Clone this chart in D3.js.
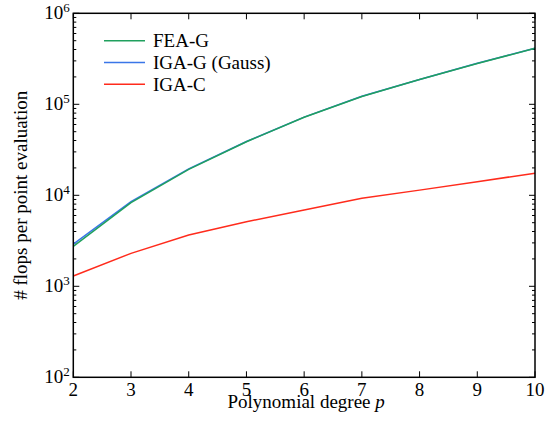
<!DOCTYPE html>
<html>
<head>
<meta charset="utf-8">
<script src="https://cdn.jsdelivr.net/npm/d3@7"></script>
<style>
	body { margin: 0; background: #fff; }
</style>
</head>
<body>
<script>
var w = 555, h = 427;
var margin = {top: 13.3, right: 20, bottom: 49.7, left: 73.3};
var serif = "'Nimbus Roman'";

//data
var degrees = [2, 3, 4, 5, 6, 7, 8, 9, 10];
var feaG = [2750, 8300, 19300, 38800, 72000, 122000, 187000, 281000, 412000];
var igaG = [2900, 8500, 19500, 39000, 72300, 122500, 187500, 282000, 413000];
var igaC = [1300, 2300, 3660, 5130, 6890, 9260, 11400, 14100, 17500];
var names = ["FEA-G", "IGA-G (Gauss)", "IGA-C"];
var colors = ["#20a05e", "#3a76e8", "#ff2b1c"];
var yExps = [2, 3, 4, 5, 6];

var series = [
	{name: names[0], vals: feaG, color: colors[0]},
	{name: names[1], vals: igaG, color: colors[1]},
	{name: names[2], vals: igaC, color: colors[2]}
];
// blue goes under green so green shows on top
var drawOrder = [series[1], series[0], series[2]];

var svg = d3.select("body").append("svg")
	.attr("width", w)
	.attr("height", h);

function label(xp, yp, size){
	return svg.append("text")
		.attr("x", xp).attr("y", yp)
		.style("font-family", serif)
		.style("font-size", size + "px")
		.style("fill", "#000");
}

var x = d3.scaleLinear().domain([2, 10]).range([margin.left, w - margin.right]);
var y = d3.scaleLog().domain([100, 1e6]).range([h - margin.bottom, margin.top]);

var x0 = margin.left, x1 = w - margin.right, y0 = h - margin.bottom, y1 = margin.top;

//minor ticks
var minors = [];
yExps.slice(0, -1).forEach(function(e){
	for(var k = 2; k < 10; k++) minors.push(k * Math.pow(10, e));
});

var g = svg.append("g").attr("stroke", "#000").attr("stroke-width", 1);

minors.forEach(function(v){
	g.append("line").attr("x1", x0).attr("x2", x0 + 3).attr("y1", y(v)).attr("y2", y(v));
	g.append("line").attr("x1", x1).attr("x2", x1 - 3).attr("y1", y(v)).attr("y2", y(v));
});
yExps.forEach(function(e){
	var v = Math.pow(10, e);
	g.append("line").attr("x1", x0).attr("x2", x0 + 6).attr("y1", y(v)).attr("y2", y(v));
	g.append("line").attr("x1", x1).attr("x2", x1 - 6).attr("y1", y(v)).attr("y2", y(v));
});
degrees.forEach(function(d){
	g.append("line").attr("x1", x(d)).attr("x2", x(d)).attr("y1", y0).attr("y2", y0 - 6);
	g.append("line").attr("x1", x(d)).attr("x2", x(d)).attr("y1", y1).attr("y2", y1 + 6);
});

//lines
var line = d3.line()
	.x(function(d, i){ return x(degrees[i]); })
	.y(function(d){ return y(d); });

drawOrder.forEach(function(s){
	svg.append("path")
		.datum(s.vals)
		.attr("d", line)
		.attr("fill", "none")
		.attr("stroke", s.color)
		.attr("stroke-width", 1.5);
});

//frame
svg.append("rect")
	.attr("x", x0).attr("y", y1)
	.attr("width", x1 - x0).attr("height", y0 - y1)
	.attr("fill", "none").attr("stroke", "#000").attr("stroke-width", 1.5);

//tick labels
degrees.forEach(function(d){
	label(x(d), y0 + 18.4, 19)
		.attr("text-anchor", "middle")
		.text(d);
});
yExps.forEach(function(e){
	label(x0 - 10, y(Math.pow(10, e)) + 5.2, 19)
		.attr("text-anchor", "end")
		.text("10");
	label(x0 - 10, y(Math.pow(10, e)) - 1.5, 13)
		.attr("text-anchor", "start")
		.text(e);
});

//axis labels
var xl = label((x0 + x1) / 2 + 2, 408, 19)
	.attr("text-anchor", "middle");
xl.append("tspan").text("Polynomial degree ");
xl.append("tspan").style("font-style", "italic").text("p");

label(0, 0, 19)
	.attr("transform", "translate(27," + ((y0 + y1) / 2) + ") rotate(-90)")
	.attr("text-anchor", "middle")
	.text("# flops per point evaluation");

//legend
series.forEach(function(s, i){
	var ly = 40.7 + i * 21.8;
	svg.append("line")
		.attr("x1", 104).attr("x2", 145)
		.attr("y1", ly).attr("y2", ly)
		.attr("stroke", s.color).attr("stroke-width", 1.5);
	label(153, ly + 6.2, 19).text(s.name);
});
</script>
</body>
</html>
